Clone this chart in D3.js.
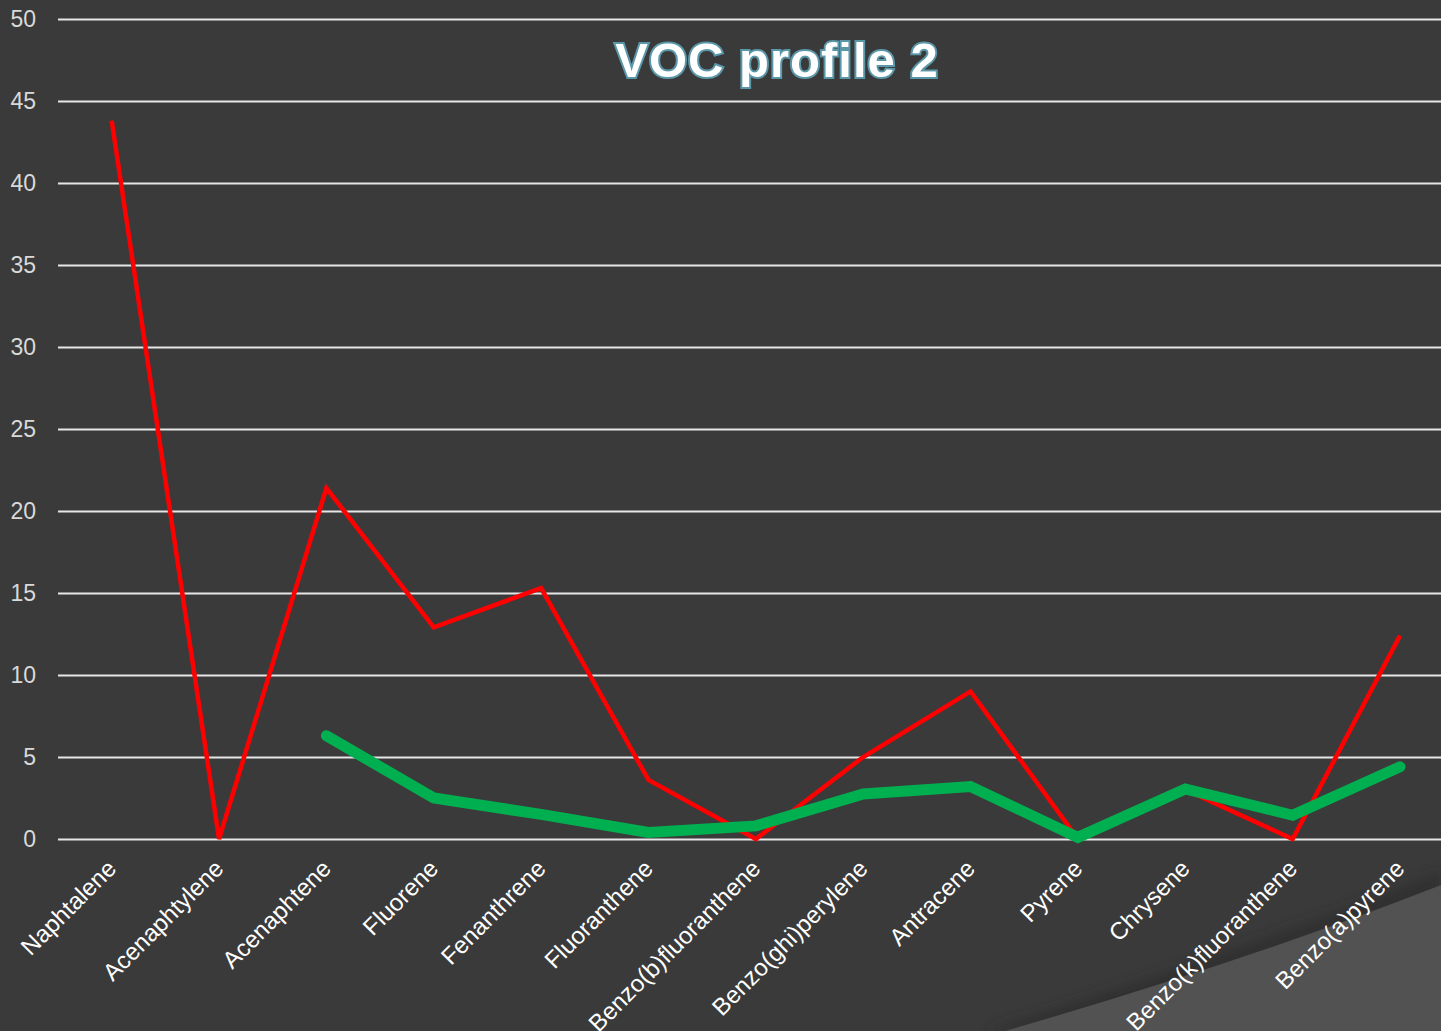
<!DOCTYPE html>
<html>
<head>
<meta charset="utf-8">
<script src="https://cdn.jsdelivr.net/npm/d3@7"></script>
<style>
  body { margin: 0; background: #3a3a3a; }
  svg { display: block; }
</style>
</head>
<body>
<div id="chart"></div>
<script>
// chart data
var compounds = ["Naphtalene", "Acenaphtylene", "Acenaphtene", "Fluorene", "Fenanthrene",
    "Fluoranthene", "Benzo(b)fluoranthene", "Benzo(ghi)perylene", "Antracene", "Pyrene",
    "Chrysene", "Benzo(k)fluoranthene", "Benzo(a)pyrene"];
var redValues = [43.8, 0, 21.4, 12.9, 15.3, 3.6, 0, 5.0, 9.0, 0, 3.0, 0, 12.4];
var greenValues = [null, null, 6.3, 2.5, 1.5, 0.4, 0.8, 2.75, 3.2, 0.1, 3.05, 1.45, 4.4];
var yTicks = [0, 5, 10, 15, 20, 25, 30, 35, 40, 45, 50];

var svgWidth = 1441;
var svgHeight = 1031;

var margin = { top: 19, right: 0, bottom: 192, left: 58 };

var svg = d3.select("#chart")
    .append("svg")
    .attr("width", svgWidth)
    .attr("height", svgHeight);

// background
svg.append("rect")
    .attr("width", svgWidth)
    .attr("height", svgHeight)
    .attr("fill", "#3a3a3a");

// decorative swoosh bottom right
var defs = svg.append("defs");
var blur = defs.append("filter").attr("id", "shadow").attr("x", "-20%").attr("y", "-20%").attr("width", "140%").attr("height", "140%");
blur.append("feGaussianBlur").attr("stdDeviation", 6);

svg.append("path")
    .attr("d", "M 985 1031 Q 1240 952 1441 872 L 1441 1031 Z")
    .attr("fill", "#2a2a2a")
    .attr("opacity", 0.6)
    .attr("filter", "url(#shadow)");
svg.append("path")
    .attr("d", "M 1005 1031 Q 1250 960 1441 885 L 1441 1031 Z")
    .attr("fill", "#525252");

var x = d3.scaleBand()
    .domain(compounds)
    .range([margin.left, margin.left + 13 * 107.36]);

var y = d3.scaleLinear()
    .domain([0, 50])
    .range([svgHeight - margin.bottom, margin.top]);

// gridlines + y labels
var yAxis = d3.axisLeft(y)
    .tickValues(yTicks)
    .tickSize(-(svgWidth - margin.left))
    .tickPadding(22);

var yg = svg.append("g")
    .attr("transform", `translate(${margin.left}, 0)`)
    .call(yAxis);
yg.select(".domain").remove();
yg.selectAll(".tick line")
    .attr("stroke", "#e6e6e6")
    .attr("stroke-width", 2);
yg.selectAll(".tick text")
    .attr("fill", "#d9d9d9")
    .attr("font-family", "Liberation Sans, Arial, sans-serif")
    .attr("font-size", "23px");

// x labels
var xAxis = d3.axisBottom(x).tickSize(0).tickPadding(0);
var xg = svg.append("g")
    .attr("transform", `translate(0, ${y(0)})`)
    .call(xAxis);
xg.select(".domain").remove();
xg.selectAll(".tick text")
    .attr("fill", "#ffffff")
    .attr("font-family", "Liberation Sans, Arial, sans-serif")
    .attr("font-size", "24px")
    .attr("text-anchor", "end")
    .attr("dy", null)
    .attr("y", null)
    .attr("transform", "translate(6, 31) rotate(-45)");

// lines
var line = d3.line()
    .defined(d => d.v !== null)
    .x(d => x(d.c) + x.bandwidth() / 2)
    .y(d => y(d.v));

svg.append("path")
    .datum(compounds.map((c, i) => ({ c: c, v: redValues[i] })))
    .attr("d", line)
    .attr("fill", "none")
    .attr("stroke", "#ff0000")
    .attr("stroke-width", 4.5);

svg.append("path")
    .datum(compounds.map((c, i) => ({ c: c, v: greenValues[i] })))
    .attr("d", line)
    .attr("fill", "none")
    .attr("stroke", "#00b050")
    .attr("stroke-width", 11)
    .attr("stroke-linecap", "round");

// title
svg.append("text")
    .attr("x", 777)
    .attr("y", 77)
    .attr("text-anchor", "middle")
    .attr("font-family", "Liberation Sans, Arial, sans-serif")
    .attr("font-weight", "bold")
    .attr("font-size", "49px")
    .attr("letter-spacing", "1px")
    .attr("fill", "#ffffff")
    .attr("stroke", "#5a97a8")
    .attr("stroke-width", 4)
    .attr("paint-order", "stroke")
    .text("VOC profile 2");
</script>
</body>
</html>
